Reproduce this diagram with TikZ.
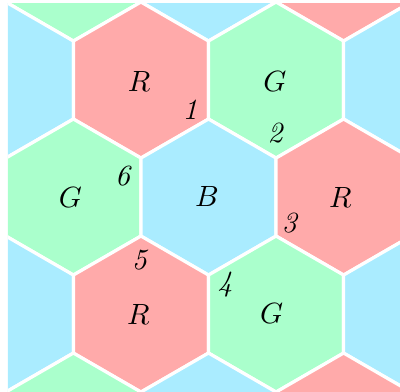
\documentclass[tikz,border=0pt]{standalone}
\usepackage{tikz}
\definecolor{hexred}{RGB}{255,170,170}
\definecolor{hexgreen}{RGB}{170,255,204}
\definecolor{hexblue}{RGB}{170,236,255}

\begin{document}
\begin{tikzpicture}[x=0.936cm, y=0.936cm,
  tile/.style={draw=white, line width=1.1pt, line join=miter},
  num/.style={font=\itshape, inner sep=0pt}]
  \useasboundingbox (-2.673,-2.487) rectangle (2.455,2.526);
  \begin{scope}
    \clip (-2.571,-2.487) rectangle (2.455,2.487);
    \foreach \x/\y/\c in {-1.732/3/hexgreen, 0/3/hexblue, 1.732/3/hexred,
        -2.598/1.5/hexblue, -0.866/1.5/hexred, 0.866/1.5/hexgreen, 2.598/1.5/hexblue,
        -1.732/0/hexgreen, 0/0/hexblue, 1.732/0/hexred,
        -2.598/-1.5/hexblue, -0.866/-1.5/hexred, 0.866/-1.5/hexgreen, 2.598/-1.5/hexblue,
        -1.732/-3/hexgreen, 0/-3/hexblue, 1.732/-3/hexred}
      {\filldraw[tile, fill=\c] (\x,\y) +(30:1) -- +(90:1) -- +(150:1) -- +(210:1) -- +(270:1) -- +(330:1) -- cycle;}
  \end{scope}
  % colour of each tile
  \node (rtop) at (-0.89,1.48) {$R$};
  \node (gtop) at (0.85,1.48) {$G$};
  \node (gmid) at (-1.77,0) {$G$};
  \node (bmid) at (-0.02,0.01) {$B$};
  \node (rmid) at (1.69,0) {$R$};
  \node (rbot) at (-0.9,-1.51) {$R$};
  \node (gbot) at (0.81,-1.49) {$G$};
  % corners round B
  \node[num] (c1) at (-0.237,1.124) {1};
  \node[num] (c2) at (0.853,0.824) {2};
  \node[num] (c3) at (1.036,-0.337) {3};
  \node[num] (c4) at (0.212,-1.128) {4};
  \node[num] (c5) at (-0.887,-0.808) {5};
  \node[num] (c6) at (-1.1,0.269) {6};
\end{tikzpicture}
\end{document}
